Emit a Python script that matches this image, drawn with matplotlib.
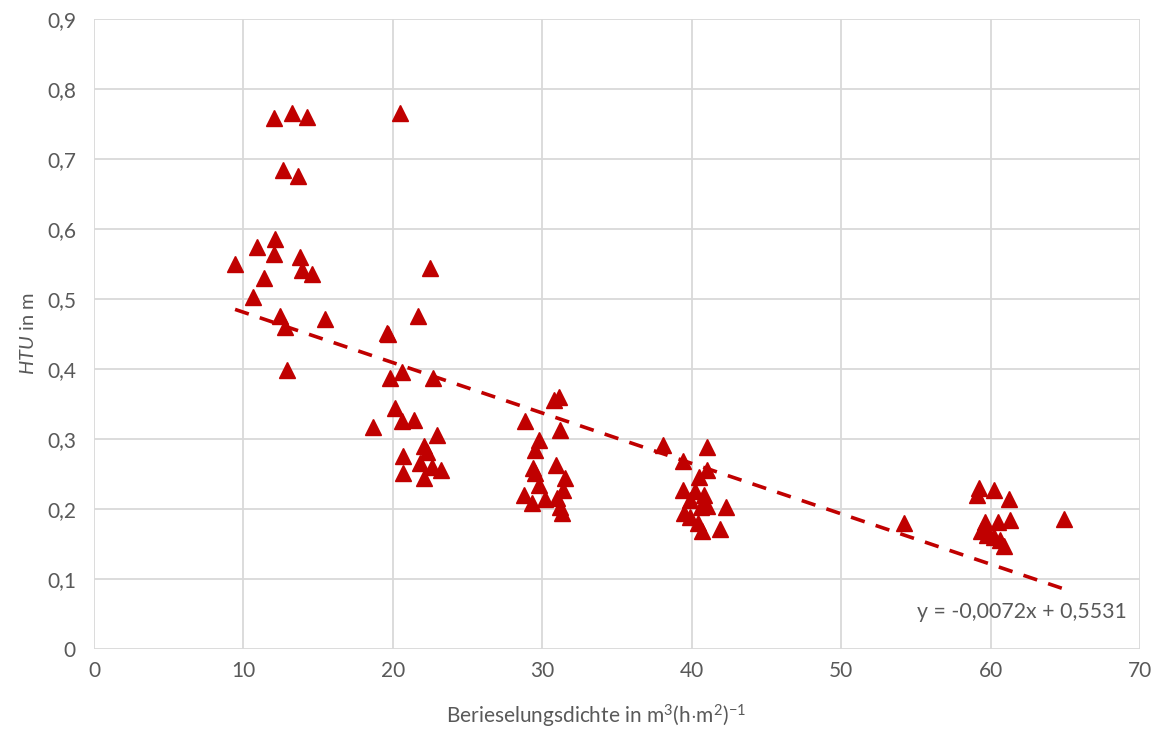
import matplotlib
matplotlib.use("Agg")
import matplotlib.pyplot as plt
from matplotlib.ticker import FuncFormatter, MultipleLocator

plt.rcParams['font.family'] = ['Lato', 'DejaVu Sans']
plt.rcParams['mathtext.fontset'] = 'custom'
plt.rcParams['mathtext.rm'] = 'Lato'
plt.rcParams['mathtext.it'] = 'Lato:italic'

# Data: Berieselungsdichte (m3/(h m2)) vs HTU (m)
x_vals = [
    9.44, 10.65, 10.92, 11.39, 12.06, 12.12, 12.06, 12.46, 12.66, 12.8, 12.93, 13.26, 13.66, 13.8, 13.93, 14.27, 14.6, 15.47,
    20.45, 22.5, 21.7, 19.6, 19.7, 20.6, 19.8, 22.7, 20.16, 20.6, 21.4, 18.67, 22.95, 22.06, 22.3, 20.7, 21.8, 22.6, 23.2, 20.7, 22.1,
    30.77, 31.1, 28.87, 31.2, 29.76, 29.5, 30.9, 29.4, 29.5, 31.55, 29.8, 31.4, 28.8, 29.3, 30.2, 31.0, 31.2, 31.3,
    38.1, 41.0, 39.4, 41.0, 40.5, 39.4, 40.2, 40.8, 39.9, 42.3, 39.5, 40.6, 39.9, 40.4, 41.9, 40.7, 41.0,
    54.2, 59.2, 59.1, 60.2, 61.2, 64.9, 59.6, 60.5, 61.3, 59.35, 59.75, 60.2, 60.6, 60.9, 59.6,
]
y_vals = [
    0.550, 0.503, 0.574, 0.530, 0.759, 0.586, 0.564, 0.476, 0.684, 0.460, 0.399, 0.766, 0.676, 0.560, 0.541, 0.760, 0.536, 0.471,
    0.765, 0.544, 0.475, 0.452, 0.450, 0.396, 0.387, 0.387, 0.344, 0.325, 0.327, 0.317, 0.306, 0.290, 0.282, 0.275, 0.265, 0.260, 0.256, 0.251, 0.244,
    0.356, 0.360, 0.325, 0.313, 0.299, 0.284, 0.263, 0.258, 0.251, 0.244, 0.234, 0.227, 0.220, 0.208, 0.214, 0.215, 0.203, 0.194,
    0.291, 0.289, 0.268, 0.256, 0.246, 0.227, 0.225, 0.220, 0.213, 0.203, 0.194, 0.203, 0.189, 0.180, 0.172, 0.168, 0.204,
    0.180, 0.230, 0.220, 0.227, 0.214, 0.185, 0.182, 0.182, 0.184, 0.168, 0.163, 0.160, 0.156, 0.147, 0.175,
]

slope = -0.0072
intercept = 0.5531
trend_x = [min(x_vals), max(x_vals)]
trend_y = [slope * v + intercept for v in trend_x]

red = '#C00000'
grey_text = '#595959'

fig = plt.figure(figsize=(11.58, 7.33), dpi=100)
ax = fig.add_axes([0.0812, 0.1146, 0.9033, 0.8595])

ax.plot(x_vals, y_vals, linestyle='none', marker='^', markersize=11.5,
        color=red, markeredgecolor=red, zorder=3)
ax.plot(trend_x, trend_y, color=red, linewidth=2.6, dashes=(4, 3.2), zorder=2)

ax.set_xlim(0, 70)
ax.set_ylim(0, 0.9)
ax.xaxis.set_major_locator(MultipleLocator(10))
ax.yaxis.set_major_locator(MultipleLocator(0.1))

def yfmt(v, pos):
    if abs(v) < 1e-9:
        return '0'
    return f'{v:.1f}'.replace('.', ',')

ax.yaxis.set_major_formatter(FuncFormatter(yfmt))
ax.xaxis.set_major_formatter(FuncFormatter(lambda v, p: f'{int(round(v))}'))

ax.grid(True, color='#D9D9D9', linewidth=1.3, zorder=0)
ax.set_axisbelow(True)
for s in ax.spines.values():
    s.set_visible(False)
ax.tick_params(axis='x', length=0, labelsize=15, colors=grey_text, pad=9)
ax.tick_params(axis='y', length=0, labelsize=15, colors=grey_text, pad=13)

ax.set_xlabel(r'Berieselungsdichte in m$^{3}$(h$\cdot$m$^{2}$)$^{-1}$',
              fontsize=15, color=grey_text)
ax.xaxis.set_label_coords((596 - 94) / (1140 - 94), -0.086)
ax.set_ylabel(r'$\mathit{HTU}$ in m', fontsize=14.5, color=grey_text, labelpad=7)

ax.text(69.1, 0.053, 'y = -0,0072x + 0,5531', fontsize=15.3, color=grey_text,
        ha='right', va='center')

fig.savefig('out.png', dpi=100)
